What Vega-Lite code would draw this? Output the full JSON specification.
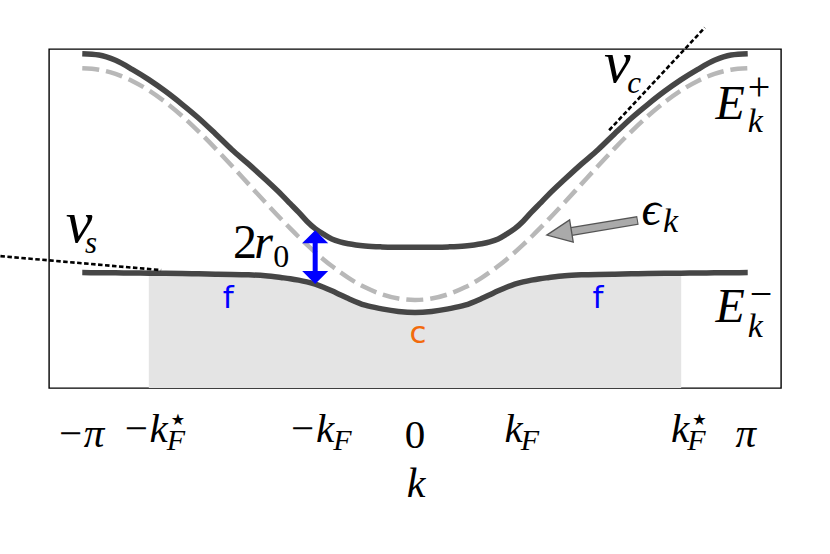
{
  "$schema": "https://vega.github.io/schema/vega-lite/v6.json",
  "width": 732,
  "height": 339,
  "autosize": {"type": "none"},
  "padding": {"left": 49, "top": 49, "right": 49, "bottom": 166},
  "background": "white",
  "config": {"view": {"stroke": "#000", "strokeWidth": 1.4}},
  "datasets": {
    "bands": [
      {"k": -1, "up": 1.859, "lo": -0.013, "eps": 1.735},
      {"k": -0.95, "up": 1.848, "lo": -0.014, "eps": 1.723},
      {"k": -0.9, "up": 1.803, "lo": -0.015, "eps": 1.687},
      {"k": -0.85, "up": 1.726, "lo": -0.016, "eps": 1.627},
      {"k": -0.8, "up": 1.638, "lo": -0.018, "eps": 1.546},
      {"k": -0.75, "up": 1.538, "lo": -0.019, "eps": 1.445},
      {"k": -0.7, "up": 1.427, "lo": -0.021, "eps": 1.327},
      {"k": -0.65, "up": 1.308, "lo": -0.023, "eps": 1.194},
      {"k": -0.6, "up": 1.175, "lo": -0.026, "eps": 1.05},
      {"k": -0.55, "up": 1.038, "lo": -0.028, "eps": 0.899},
      {"k": -0.5, "up": 0.915, "lo": -0.032, "eps": 0.744},
      {"k": -0.45, "up": 0.785, "lo": -0.04, "eps": 0.589},
      {"k": -0.4, "up": 0.65, "lo": -0.056, "eps": 0.438},
      {"k": -0.375, "up": 0.577, "lo": -0.065, "eps": 0.365},
      {"k": -0.35, "up": 0.504, "lo": -0.077, "eps": 0.294},
      {"k": -0.325, "up": 0.427, "lo": -0.092, "eps": 0.226},
      {"k": -0.3, "up": 0.363, "lo": -0.111, "eps": 0.161},
      {"k": -0.275, "up": 0.316, "lo": -0.138, "eps": 0.1},
      {"k": -0.25, "up": 0.275, "lo": -0.169, "eps": 0.043},
      {"k": -0.225, "up": 0.25, "lo": -0.202, "eps": -0.009},
      {"k": -0.2, "up": 0.234, "lo": -0.235, "eps": -0.058},
      {"k": -0.15, "up": 0.215, "lo": -0.292, "eps": -0.139},
      {"k": -0.1, "up": 0.207, "lo": -0.323, "eps": -0.198},
      {"k": -0.05, "up": 0.204, "lo": -0.345, "eps": -0.235},
      {"k": 0, "up": 0.203, "lo": -0.354, "eps": -0.247},
      {"k": 0.05, "up": 0.204, "lo": -0.345, "eps": -0.235},
      {"k": 0.1, "up": 0.207, "lo": -0.323, "eps": -0.198},
      {"k": 0.15, "up": 0.215, "lo": -0.292, "eps": -0.139},
      {"k": 0.2, "up": 0.234, "lo": -0.235, "eps": -0.058},
      {"k": 0.225, "up": 0.25, "lo": -0.202, "eps": -0.009},
      {"k": 0.25, "up": 0.275, "lo": -0.169, "eps": 0.043},
      {"k": 0.275, "up": 0.316, "lo": -0.138, "eps": 0.1},
      {"k": 0.3, "up": 0.363, "lo": -0.111, "eps": 0.161},
      {"k": 0.325, "up": 0.427, "lo": -0.092, "eps": 0.226},
      {"k": 0.35, "up": 0.504, "lo": -0.077, "eps": 0.294},
      {"k": 0.375, "up": 0.577, "lo": -0.065, "eps": 0.365},
      {"k": 0.4, "up": 0.65, "lo": -0.056, "eps": 0.438},
      {"k": 0.45, "up": 0.785, "lo": -0.04, "eps": 0.589},
      {"k": 0.5, "up": 0.915, "lo": -0.032, "eps": 0.744},
      {"k": 0.55, "up": 1.038, "lo": -0.028, "eps": 0.899},
      {"k": 0.6, "up": 1.175, "lo": -0.026, "eps": 1.05},
      {"k": 0.65, "up": 1.308, "lo": -0.023, "eps": 1.194},
      {"k": 0.7, "up": 1.427, "lo": -0.021, "eps": 1.327},
      {"k": 0.75, "up": 1.538, "lo": -0.019, "eps": 1.445},
      {"k": 0.8, "up": 1.638, "lo": -0.018, "eps": 1.546},
      {"k": 0.85, "up": 1.726, "lo": -0.016, "eps": 1.627},
      {"k": 0.9, "up": 1.803, "lo": -0.015, "eps": 1.687},
      {"k": 0.95, "up": 1.848, "lo": -0.014, "eps": 1.723},
      {"k": 1, "up": 1.859, "lo": -0.013, "eps": 1.735}
    ]
  },
  "layer": [
    {
      "data": {"name": "bands"},
      "transform": [{"filter": {"field": "k", "range": [-0.8, 0.8]}}],
      "mark": {"type": "area", "color": "#e4e4e4", "interpolate": "monotone"},
      "encoding": {
        "x": {"field": "k", "type": "quantitative", "scale": {"domain": [-1.1, 1.1], "nice": false, "zero": false},
          "axis": {"values": [-1, -0.8, -0.3, 0, 0.3, 0.8, 1], "labels": false, "title": null, "grid": false, "tickSize": -6, "tickColor": "#000", "tickWidth": 1.2, "domain": true, "domainColor": "#000", "domainWidth": 1.6, "zindex": 1}},
        "y": {"field": "lo", "type": "quantitative", "scale": {"domain": [-1, 1.9], "nice": false, "zero": false},
          "axis": {"values": [0, 1], "labels": false, "title": null, "grid": false, "tickSize": -7, "tickColor": "#000", "tickWidth": 1.2, "domain": true, "domainColor": "#000", "domainWidth": 1.6, "zindex": 1}},
        "y2": {"datum": -1}
      }
    },
    {
      "data": {"name": "bands"},
      "mark": {"type": "line", "color": "#b8b8b8", "strokeWidth": 4.5, "strokeDash": [17, 7], "strokeCap": "butt", "interpolate": "monotone"},
      "encoding": {
        "x": {"field": "k", "type": "quantitative", "scale": {"domain": [-1.1, 1.1], "nice": false, "zero": false}, "axis": null},
        "y": {"field": "eps", "type": "quantitative", "scale": {"domain": [-1, 1.9], "nice": false, "zero": false}, "axis": null}
      }
    },
    {
      "data": {"name": "bands"},
      "mark": {"type": "line", "color": "#464646", "strokeWidth": 5.5, "strokeCap": "butt", "interpolate": "monotone"},
      "encoding": {
        "x": {"field": "k", "type": "quantitative", "scale": {"domain": [-1.1, 1.1], "nice": false, "zero": false}, "axis": null},
        "y": {"field": "up", "type": "quantitative", "scale": {"domain": [-1, 1.9], "nice": false, "zero": false}, "axis": null}
      }
    },
    {
      "data": {"name": "bands"},
      "mark": {"type": "line", "color": "#464646", "strokeWidth": 5.5, "strokeCap": "butt", "interpolate": "monotone"},
      "encoding": {
        "x": {"field": "k", "type": "quantitative", "scale": {"domain": [-1.1, 1.1], "nice": false, "zero": false}, "axis": null},
        "y": {"field": "lo", "type": "quantitative", "scale": {"domain": [-1, 1.9], "nice": false, "zero": false}, "axis": null}
      }
    },
    {
      "data": {"values": [{"k": -1.246, "E": 0.128, "g": "vs"}, {"k": -0.763, "E": 0.0085, "g": "vs"}, {"k": 0.5835, "E": 1.205, "g": "vc"}, {"k": 0.871, "E": 2.083, "g": "vc"}]},
      "mark": {"type": "line", "color": "#000", "strokeWidth": 2.6, "strokeDash": [4.5, 2.5], "strokeCap": "butt"},
      "encoding": {
        "detail": {"field": "g"},
        "x": {"field": "k", "type": "quantitative", "scale": {"domain": [-1.1, 1.1], "nice": false, "zero": false}, "axis": null},
        "y": {"field": "E", "type": "quantitative", "scale": {"domain": [-1, 1.9], "nice": false, "zero": false}, "axis": null}
      }
    },
    {
      "data": {"values": [{"k": -0.3, "a": 0.31, "b": -0.07}]},
      "mark": {"type": "rule", "color": "#0000ff", "strokeWidth": 5},
      "encoding": {
        "x": {"field": "k", "type": "quantitative", "scale": {"domain": [-1.1, 1.1], "nice": false, "zero": false}, "axis": null},
        "y": {"field": "a", "type": "quantitative", "scale": {"domain": [-1, 1.9], "nice": false, "zero": false}, "axis": null},
        "y2": {"field": "b"}
      }
    },
    {
      "data": {"values": [{"k": -0.3, "E": 0.35, "s": "up"}, {"k": -0.3, "E": -0.111, "s": "down"}]},
      "mark": {"type": "point", "filled": true, "color": "#0000ff", "opacity": 1, "size": 676, "strokeWidth": 0},
      "encoding": {
        "x": {"field": "k", "type": "quantitative", "scale": {"domain": [-1.1, 1.1], "nice": false, "zero": false}, "axis": null},
        "y": {"field": "E", "type": "quantitative", "scale": {"domain": [-1, 1.9], "nice": false, "zero": false}, "axis": null},
        "shape": {"field": "s", "type": "nominal", "scale": {"domain": ["up", "down"], "range": ["M0,0L-1,1L1,1Z", "M0,0L-1,-1L1,-1Z"]}, "legend": null}
      }
    },
    {
      "data": {"values": [{"k": 0.670, "E": 0.434}, {"k": 0.47, "E": 0.339}]},
      "mark": {"type": "line", "color": "#555555", "strokeWidth": 9, "strokeCap": "butt"},
      "encoding": {
        "x": {"field": "k", "type": "quantitative", "scale": {"domain": [-1.1, 1.1], "nice": false, "zero": false}, "axis": null},
        "y": {"field": "E", "type": "quantitative", "scale": {"domain": [-1, 1.9], "nice": false, "zero": false}, "axis": null}
      }
    },
    {
      "data": {"values": [{"k": 0.667, "E": 0.432}, {"k": 0.47, "E": 0.339}]},
      "mark": {"type": "line", "color": "#aaaaaa", "strokeWidth": 6.5, "strokeCap": "butt"},
      "encoding": {
        "x": {"field": "k", "type": "quantitative", "scale": {"domain": [-1.1, 1.1], "nice": false, "zero": false}, "axis": null},
        "y": {"field": "E", "type": "quantitative", "scale": {"domain": [-1, 1.9], "nice": false, "zero": false}, "axis": null}
      }
    },
    {
      "data": {"values": [{"k": 0.396, "E": 0.308}]},
      "mark": {"type": "point", "filled": true, "shape": "M0,0L2,-0.9L2,0.9Z", "size": 625, "angle": 350.7, "fill": "#aaaaaa", "stroke": "#555555", "strokeWidth": 1.3, "opacity": 1},
      "encoding": {
        "x": {"field": "k", "type": "quantitative", "scale": {"domain": [-1.1, 1.1], "nice": false, "zero": false}, "axis": null},
        "y": {"field": "E", "type": "quantitative", "scale": {"domain": [-1, 1.9], "nice": false, "zero": false}, "axis": null}
      }
    },
    {
      "data": {"values": [{"k": -1.05, "E": 0.25, "t": "v"}, {"k": 0.568, "E": 1.615, "t": "v"}]},
      "mark": {"type": "text", "font": "Liberation Serif", "fontStyle": "italic", "fontSize": 60, "align": "left", "baseline": "alphabetic", "color": "#000"},
      "encoding": {
        "x": {"field": "k", "type": "quantitative", "scale": {"domain": [-1.1, 1.1], "nice": false, "zero": false}, "axis": null},
        "y": {"field": "E", "type": "quantitative", "scale": {"domain": [-1, 1.9], "nice": false, "zero": false}, "axis": null},
        "text": {"field": "t"}
      }
    },
    {
      "data": {"values": [{"k": -0.992, "E": 0.154, "t": "s"}, {"k": 0.638, "E": 1.521, "t": "c"}]},
      "mark": {"type": "text", "font": "Liberation Serif", "fontStyle": "italic", "fontSize": 31, "align": "left", "baseline": "alphabetic", "color": "#000"},
      "encoding": {
        "x": {"field": "k", "type": "quantitative", "scale": {"domain": [-1.1, 1.1], "nice": false, "zero": false}, "axis": null},
        "y": {"field": "E", "type": "quantitative", "scale": {"domain": [-1, 1.9], "nice": false, "zero": false}, "axis": null},
        "text": {"field": "t"}
      }
    },
    {
      "data": {"values": [{"k": -0.547, "E": 0.111, "t": "2"}]},
      "mark": {"type": "text", "font": "Liberation Serif", "fontSize": 48, "align": "left", "baseline": "alphabetic", "color": "#000"},
      "encoding": {
        "x": {"field": "k", "type": "quantitative", "scale": {"domain": [-1.1, 1.1], "nice": false, "zero": false}, "axis": null},
        "y": {"field": "E", "type": "quantitative", "scale": {"domain": [-1, 1.9], "nice": false, "zero": false}, "axis": null},
        "text": {"field": "t"}
      }
    },
    {
      "data": {"values": [{"k": -0.4835, "E": 0.111, "t": "r"}, {"k": 0.681, "E": 0.393, "t": "ϵ"}, {"k": 0.903, "E": 1.305, "t": "E"}, {"k": 0.903, "E": -0.433, "t": "E"}]},
      "mark": {"type": "text", "font": "Liberation Serif", "fontStyle": "italic", "fontSize": 48, "align": "left", "baseline": "alphabetic", "color": "#000"},
      "encoding": {
        "x": {"field": "k", "type": "quantitative", "scale": {"domain": [-1.1, 1.1], "nice": false, "zero": false}, "axis": null},
        "y": {"field": "E", "type": "quantitative", "scale": {"domain": [-1, 1.9], "nice": false, "zero": false}, "axis": null},
        "text": {"field": "t"}
      }
    },
    {
      "data": {"values": [{"k": -0.426, "E": 0.034, "t": "0"}]},
      "mark": {"type": "text", "font": "Liberation Serif", "fontSize": 32, "align": "left", "baseline": "alphabetic", "color": "#000"},
      "encoding": {
        "x": {"field": "k", "type": "quantitative", "scale": {"domain": [-1.1, 1.1], "nice": false, "zero": false}, "axis": null},
        "y": {"field": "E", "type": "quantitative", "scale": {"domain": [-1, 1.9], "nice": false, "zero": false}, "axis": null},
        "text": {"field": "t"}
      }
    },
    {
      "data": {"values": [{"k": 0.745, "E": 0.336, "t": "k"}, {"k": 1.0, "E": 1.19, "t": "k"}, {"k": 1.0, "E": -0.562, "t": "k"}]},
      "mark": {"type": "text", "font": "Liberation Serif", "fontStyle": "italic", "fontSize": 34, "align": "left", "baseline": "alphabetic", "color": "#000"},
      "encoding": {
        "x": {"field": "k", "type": "quantitative", "scale": {"domain": [-1.1, 1.1], "nice": false, "zero": false}, "axis": null},
        "y": {"field": "E", "type": "quantitative", "scale": {"domain": [-1, 1.9], "nice": false, "zero": false}, "axis": null},
        "text": {"field": "t"}
      }
    },
    {
      "data": {"values": [{"k": 1.0, "E": 1.568, "t": "+"}, {"k": 1.006, "E": -0.205, "t": "−"}]},
      "mark": {"type": "text", "font": "Liberation Serif", "fontSize": 40, "align": "left", "baseline": "middle", "color": "#000"},
      "encoding": {
        "x": {"field": "k", "type": "quantitative", "scale": {"domain": [-1.1, 1.1], "nice": false, "zero": false}, "axis": null},
        "y": {"field": "E", "type": "quantitative", "scale": {"domain": [-1, 1.9], "nice": false, "zero": false}, "axis": null},
        "text": {"field": "t"}
      }
    },
    {
      "data": {"values": [{"k": -0.5616, "E": -0.316, "t": "f"}, {"k": 0.5495, "E": -0.316, "t": "f"}]},
      "mark": {"type": "text", "font": "DejaVu Sans", "fontSize": 31, "align": "center", "baseline": "alphabetic", "color": "#0000ff"},
      "encoding": {
        "x": {"field": "k", "type": "quantitative", "scale": {"domain": [-1.1, 1.1], "nice": false, "zero": false}, "axis": null},
        "y": {"field": "E", "type": "quantitative", "scale": {"domain": [-1, 1.9], "nice": false, "zero": false}, "axis": null},
        "text": {"field": "t"}
      }
    },
    {
      "data": {"values": [{"k": 0.009, "E": -0.618, "t": "c"}]},
      "mark": {"type": "text", "font": "DejaVu Sans", "fontSize": 31, "align": "center", "baseline": "alphabetic", "color": "#f26a0c"},
      "encoding": {
        "x": {"field": "k", "type": "quantitative", "scale": {"domain": [-1.1, 1.1], "nice": false, "zero": false}, "axis": null},
        "y": {"field": "E", "type": "quantitative", "scale": {"domain": [-1, 1.9], "nice": false, "zero": false}, "axis": null},
        "text": {"field": "t"}
      }
    },
    {
      "data": {"values": [{"k": -1, "t": "−π"}, {"k": 1, "t": "π"}]},
      "mark": {"type": "text", "font": "Liberation Serif", "fontStyle": "italic", "fontSize": 41, "align": "center", "baseline": "alphabetic", "dx": -2, "color": "#000"},
      "encoding": {
        "x": {"field": "k", "type": "quantitative", "scale": {"domain": [-1.1, 1.1], "nice": false, "zero": false}, "axis": null},
        "y": {"datum": -1.504, "type": "quantitative", "scale": {"domain": [-1, 1.9], "nice": false, "zero": false}, "axis": null},
        "text": {"field": "t"}
      }
    },
    {
      "data": {"values": [{"k": 0, "t": "0"}]},
      "mark": {"type": "text", "font": "Liberation Serif", "fontSize": 41, "align": "center", "baseline": "alphabetic", "color": "#000"},
      "encoding": {
        "x": {"field": "k", "type": "quantitative", "scale": {"domain": [-1.1, 1.1], "nice": false, "zero": false}, "axis": null},
        "y": {"datum": -1.515, "type": "quantitative", "scale": {"domain": [-1, 1.9], "nice": false, "zero": false}, "axis": null},
        "text": {"field": "t"}
      }
    },
    {
      "data": {"values": [{"k": -0.8, "t": "−k"}, {"k": -0.3, "t": "−k"}]},
      "mark": {"type": "text", "font": "Liberation Serif", "fontStyle": "italic", "fontSize": 41, "align": "right", "baseline": "alphabetic", "dx": 19, "color": "#000"},
      "encoding": {
        "x": {"field": "k", "type": "quantitative", "scale": {"domain": [-1.1, 1.1], "nice": false, "zero": false}, "axis": null},
        "y": {"datum": -1.459, "type": "quantitative", "scale": {"domain": [-1, 1.9], "nice": false, "zero": false}, "axis": null},
        "text": {"field": "t"}
      }
    },
    {
      "data": {"values": [{"k": 0.3, "t": "k"}, {"k": 0.8, "t": "k"}]},
      "mark": {"type": "text", "font": "Liberation Serif", "fontStyle": "italic", "fontSize": 41, "align": "right", "baseline": "alphabetic", "dx": 8, "color": "#000"},
      "encoding": {
        "x": {"field": "k", "type": "quantitative", "scale": {"domain": [-1.1, 1.1], "nice": false, "zero": false}, "axis": null},
        "y": {"datum": -1.459, "type": "quantitative", "scale": {"domain": [-1, 1.9], "nice": false, "zero": false}, "axis": null},
        "text": {"field": "t"}
      }
    },
    {
      "data": {"values": [{"k": -0.8, "t": "F"}, {"k": -0.3, "t": "F"}]},
      "mark": {"type": "text", "font": "Liberation Serif", "fontStyle": "italic", "fontSize": 30, "align": "left", "baseline": "alphabetic", "dx": 18, "color": "#000"},
      "encoding": {
        "x": {"field": "k", "type": "quantitative", "scale": {"domain": [-1.1, 1.1], "nice": false, "zero": false}, "axis": null},
        "y": {"datum": -1.53, "type": "quantitative", "scale": {"domain": [-1, 1.9], "nice": false, "zero": false}, "axis": null},
        "text": {"field": "t"}
      }
    },
    {
      "data": {"values": [{"k": 0.3, "t": "F"}, {"k": 0.8, "t": "F"}]},
      "mark": {"type": "text", "font": "Liberation Serif", "fontStyle": "italic", "fontSize": 30, "align": "left", "baseline": "alphabetic", "dx": 6, "color": "#000"},
      "encoding": {
        "x": {"field": "k", "type": "quantitative", "scale": {"domain": [-1.1, 1.1], "nice": false, "zero": false}, "axis": null},
        "y": {"datum": -1.53, "type": "quantitative", "scale": {"domain": [-1, 1.9], "nice": false, "zero": false}, "axis": null},
        "text": {"field": "t"}
      }
    },
    {
      "data": {"values": [{"k": -0.8, "t": "★"}]},
      "mark": {"type": "text", "font": "DejaVu Sans", "fontSize": 16, "align": "left", "baseline": "middle", "dx": 22, "color": "#000"},
      "encoding": {
        "x": {"field": "k", "type": "quantitative", "scale": {"domain": [-1.1, 1.1], "nice": false, "zero": false}, "axis": null},
        "y": {"datum": -1.27, "type": "quantitative", "scale": {"domain": [-1, 1.9], "nice": false, "zero": false}, "axis": null},
        "text": {"field": "t"}
      }
    },
    {
      "data": {"values": [{"k": 0.8, "t": "★"}]},
      "mark": {"type": "text", "font": "DejaVu Sans", "fontSize": 16, "align": "left", "baseline": "middle", "dx": 11, "color": "#000"},
      "encoding": {
        "x": {"field": "k", "type": "quantitative", "scale": {"domain": [-1.1, 1.1], "nice": false, "zero": false}, "axis": null},
        "y": {"datum": -1.27, "type": "quantitative", "scale": {"domain": [-1, 1.9], "nice": false, "zero": false}, "axis": null},
        "text": {"field": "t"}
      }
    },
    {
      "data": {"values": [{"k": 0, "t": "k"}]},
      "mark": {"type": "text", "font": "Liberation Serif", "fontStyle": "italic", "fontSize": 42, "align": "center", "baseline": "alphabetic", "dx": 1, "color": "#000"},
      "encoding": {
        "x": {"field": "k", "type": "quantitative", "scale": {"domain": [-1.1, 1.1], "nice": false, "zero": false}, "axis": null},
        "y": {"datum": -1.929, "type": "quantitative", "scale": {"domain": [-1, 1.9], "nice": false, "zero": false}, "axis": null},
        "text": {"field": "t"}
      }
    }
  ]
}
